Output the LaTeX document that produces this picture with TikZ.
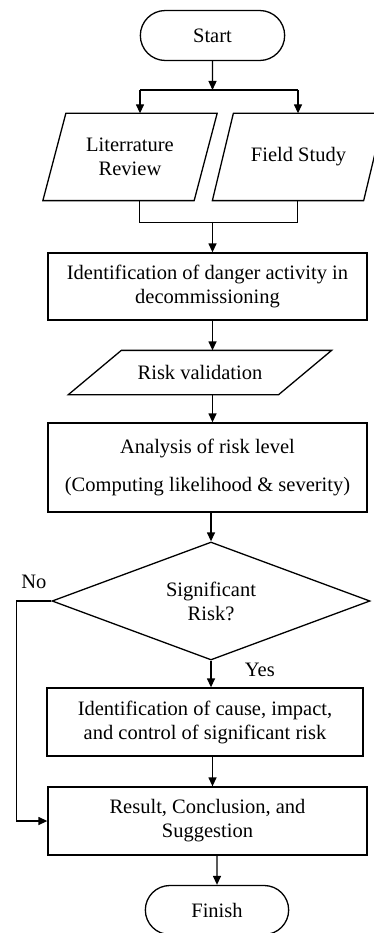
\documentclass[tikz,border=0pt]{standalone}
\usepackage{fontspec}
\setmainfont{Liberation Serif}
\usetikzlibrary{shapes.geometric,shapes.misc,arrows.meta}

\begin{document}
\begin{tikzpicture}[x=1pt, y=-1pt, line width=1.3pt,
    >={Triangle[length=9pt,width=8pt]},
    font=\fontsize{20.5}{24}\selectfont,
    term/.style={rounded rectangle, draw, minimum width=151, minimum height=50},
    io/.style={rectangle, inner sep=1, minimum height=86, align=center},
    proc/.style={rectangle, draw, minimum width=319, minimum height=68,
                 inner sep=1, align=center},
    dec/.style={diamond, draw, aspect=2.7, minimum width=318,
                minimum height=118, inner sep=0, align=center}]

\useasboundingbox (0,0) rectangle (373,933);

\draw[black]
    (212.5,35.5) node[term](s) {Start}
    (130,157)    node[io, minimum width=150](l) {Literrature\\Review}
    (298.5,157)  node[io, minimum width=150](f) {\raisebox{5pt}{Field Study}}
    (207.5,286.5) node[proc, minimum height=67](d)
                      {Identification of danger activity in\\decommissioning}
    (200,372.5)  node[io, minimum width=209, minimum height=43](r) {Risk validation}
    (207.5,467.5) node[proc, minimum height=89](a)
                      {Analysis of risk level\\[14pt](Computing likelihood \& severity)}
    (211,601)    node[dec](q) {Significant\\Risk?}
    (205,722)    node[proc, minimum width=316](c)
                      {Identification of cause, impact,\\and control of significant risk}
    (207.5,821)  node[proc](e) {Result, Conclusion, and\\Suggestion}
    (217,910)    node[term, minimum width=150, minimum height=49](t) {Finish}
    ;

% slanted outlines of the input boxes
\draw ([xshift=11.5]l.north west) -- ([xshift=11.5]l.north east)
   -- ([xshift=-11.5]l.south east) -- ([xshift=-11.5]l.south west) -- cycle;
\draw ([xshift=10.5]f.north west) -- ([xshift=10.5]f.north east)
   -- ([xshift=-10.5]f.south east) -- ([xshift=-10.5]f.south west) -- cycle;
\draw ([xshift=26.5]r.north west) -- ([xshift=26.5]r.north east)
   -- ([xshift=-26.5]r.south east) -- ([xshift=-26.5]r.south west) -- cycle;

% fork and merge points
\coordinate (jl) at (140,90);
\coordinate (jr) at (298,90);
\coordinate (ml) at (139,222);
\coordinate (mr) at (297,222);
\coordinate (m)  at (212.5,222);

\draw[->] (s) -- (s |- jl);
\draw (jl) -- (jr);
\draw[->] (jl) -- (l.north -| jl);
\draw[->] (jr) -- (f.north -| jr);
\draw[line width=0.7pt] (l.south -| ml) -- (ml) -- (mr) -- (f.south -| mr);
\draw[->] (m) -- (d.north -| m);
\draw[->] (d.south -| s) -- (r.north -| s);
\draw[->] (r.south -| s) -- (a.north -| s);
\draw[->] (a.south -| q) -- (q);
\draw[->] (q) -- node[pos=0.35, right, xshift=30]{Yes} (c.north -| q);
\draw[->] (q.west) -- node[midway, above, yshift=8]{No} ++(-35,0) |- (e.west);
\draw[->] (c.south -| s) -- (e.north -| s);
\draw[->] (e.south -| t) -- (t);

\end{tikzpicture}
\end{document}
